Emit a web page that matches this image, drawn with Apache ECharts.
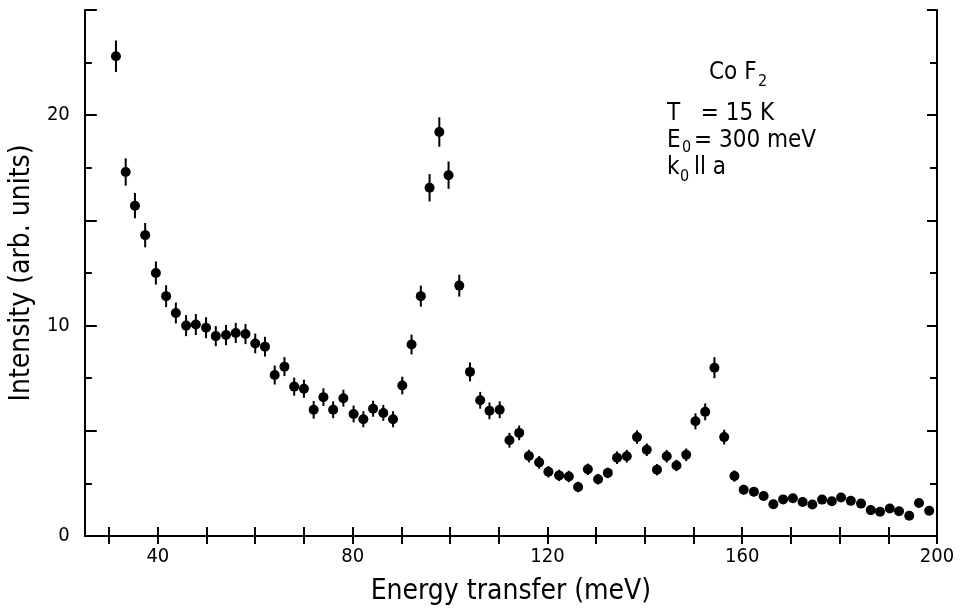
<!DOCTYPE html>
<html>
<head>
<meta charset="utf-8">
<script src="https://cdn.jsdelivr.net/npm/echarts@6/dist/echarts.min.js"></script>
<style>html,body{margin:0;padding:0;background:#fff}#c{width:962px;height:612px}</style>
</head>
<body>
<div id="c"></div>
<script>
// Energy transfer (meV)
const energy = [31.4,33.4,35.3,37.4,39.6,41.7,43.7,45.8,47.8,49.9,51.9,54.0,56.0,58.0,60.0,62.0,64.0,66.0,68.0,70.0,72.0,74.0,76.0,78.1,80.2,82.2,84.2,86.3,88.3,90.2,92.1,94.0,95.8,97.8,99.7,101.9,104.1,106.2,108.1,110.2,112.2,114.2,116.2,118.3,120.2,122.4,124.4,126.3,128.3,130.4,132.4,134.3,136.3,138.4,140.4,142.5,144.5,146.5,148.5,150.4,152.4,154.3,156.3,158.4,160.3,162.4,164.4,166.4,168.4,170.4,172.4,174.4,176.4,178.4,180.3,182.3,184.4,186.4,188.3,190.3,192.2,194.3,196.3,198.4];
// Intensity (arb. units)
const intensity = [22.8,17.3,15.7,14.3,12.5,11.4,10.6,10.0,10.05,9.9,9.5,9.55,9.65,9.6,9.15,9.0,7.65,8.05,7.1,7.0,6.0,6.6,6.0,6.55,5.8,5.55,6.05,5.85,5.55,7.15,9.1,11.4,16.55,19.2,17.15,11.9,7.8,6.45,5.95,6.0,4.55,4.9,3.8,3.5,3.05,2.88,2.83,2.33,3.17,2.7,3.0,3.72,3.79,4.7,4.1,3.15,3.79,3.35,3.86,5.45,5.9,8.0,4.7,2.85,2.2,2.1,1.9,1.51,1.74,1.79,1.62,1.5,1.73,1.65,1.83,1.67,1.54,1.23,1.15,1.31,1.18,0.96,1.57,1.2];
// Error bar half-lengths
const errors = [0.75,0.65,0.6,0.58,0.55,0.52,0.5,0.5,0.5,0.5,0.48,0.48,0.48,0.48,0.47,0.47,0.45,0.45,0.43,0.43,0.42,0.42,0.4,0.4,0.4,0.38,0.38,0.38,0.38,0.42,0.47,0.5,0.65,0.7,0.65,0.52,0.45,0.4,0.4,0.4,0.35,0.35,0.3,0.3,0.27,0.27,0.27,0.25,0.27,0.25,0.25,0.3,0.3,0.32,0.3,0.27,0.3,0.27,0.3,0.38,0.4,0.5,0.35,0.27,0.22,0.22,0.2,0.18,0.2,0.2,0.18,0.17,0.18,0.17,0.18,0.17,0.15,0.13,0.12,0.13,0.12,0.1,0.12,0.1];
const xTickValues = [30,40,50,60,70,80,90,100,110,120,130,140,150,160,170,180,190,200];
const xLabelValues = [40,80,120,160,200];
const yLabelValues = [0,10,20];

const FONT = "'DejaVu Sans Condensed','Liberation Sans Narrow','DejaVu Sans',sans-serif";
const INK = '#000';

const chart = echarts.init(document.getElementById('c'), null, {renderer: 'canvas'});

const points = energy.map((e, i) => [e, intensity[i]]);
const bars = energy.map((e, i) => [e, intensity[i] - errors[i], intensity[i] + errors[i]]);

const axisLineStyle = {show: true, lineStyle: {color: INK, width: 2}};

chart.setOption({
  animation: false,
  backgroundColor: '#fff',
  grid: {left: 83, right: 25, top: 10, bottom: 76, containLabel: false},
  xAxis: [
    {
      type: 'value', min: 25, max: 200, position: 'bottom',
      axisLine: axisLineStyle,
      axisTick: {show: true, inside: true, length: 9, customValues: xTickValues, lineStyle: {color: INK, width: 2}},
      axisLabel: {customValues: xLabelValues, fontFamily: FONT, fontSize: 20, color: INK, margin: 11},
      splitLine: {show: false},
      name: 'Energy transfer (meV)', nameLocation: 'middle', nameGap: 42,
      nameTextStyle: {fontFamily: FONT, fontSize: 28, color: INK}
    },
    {
      type: 'value', min: 25, max: 200, position: 'top',
      axisLine: axisLineStyle,
      axisTick: {show: true, inside: true, length: 8, customValues: xTickValues, lineStyle: {color: INK, width: 2}},
      axisLabel: {show: false},
      splitLine: {show: false}
    }
  ],
  yAxis: [
    {
      type: 'value', min: 0, max: 25, interval: 5, position: 'left',
      axisLine: axisLineStyle,
      axisTick: {show: true, inside: true, length: 12, lineStyle: {color: INK, width: 2}},
      minorTick: {show: true, splitNumber: 2, length: 7, lineStyle: {color: INK, width: 2}},
      axisLabel: {customValues: yLabelValues, fontFamily: FONT, fontSize: 20, color: INK, margin: 15},
      splitLine: {show: false},
      name: 'Intensity (arb. units)', nameLocation: 'middle', nameGap: 48,
      nameTextStyle: {fontFamily: FONT, fontSize: 28, color: INK}
    },
    {
      type: 'value', min: 0, max: 25, interval: 5, position: 'right',
      axisLine: axisLineStyle,
      axisTick: {show: true, inside: true, length: 10, lineStyle: {color: INK, width: 2}},
      minorTick: {show: true, splitNumber: 2, length: 7, lineStyle: {color: INK, width: 2}},
      axisLabel: {show: false},
      splitLine: {show: false}
    }
  ],
  series: [
    {
      type: 'custom', xAxisIndex: 0, yAxisIndex: 0,
      encode: {x: 0, y: [1, 2]},
      data: bars,
      renderItem: function (params, api) {
        const x = api.value(0);
        const p1 = api.coord([x, api.value(1)]);
        const p2 = api.coord([x, api.value(2)]);
        return {type: 'line', shape: {x1: p1[0], y1: p1[1], x2: p2[0], y2: p2[1]}, style: {stroke: INK, lineWidth: 2}};
      },
      z: 2
    },
    {
      type: 'scatter', xAxisIndex: 0, yAxisIndex: 0,
      data: points, symbol: 'circle', symbolSize: 10,
      itemStyle: {color: INK, opacity: 1}, z: 3
    }
  ],
  graphic: [
    {type: 'text', left: 709, top: 61, style: {text: 'Co F', font: '24px ' + FONT, fill: INK}},
    {type: 'text', left: 758, top: 74, style: {text: '2', font: '16px ' + FONT, fill: INK}},
    {type: 'text', left: 667, top: 102, style: {text: 'T   = 15 K', font: '24px ' + FONT, fill: INK}},
    {type: 'text', left: 667, top: 129, style: {text: 'E', font: '24px ' + FONT, fill: INK}},
    {type: 'text', left: 682, top: 140, style: {text: '0', font: '16px ' + FONT, fill: INK}},
    {type: 'text', left: 694, top: 129, style: {text: '= 300 meV', font: '24px ' + FONT, fill: INK}},
    {type: 'text', left: 667, top: 156, style: {text: 'k', font: '24px ' + FONT, fill: INK}},
    {type: 'text', left: 680, top: 169, style: {text: '0', font: '16px ' + FONT, fill: INK}},
    {type: 'text', left: 694, top: 156, style: {text: 'll a', font: '24px ' + FONT, fill: INK}}
  ]
});
</script>
</body>
</html>
